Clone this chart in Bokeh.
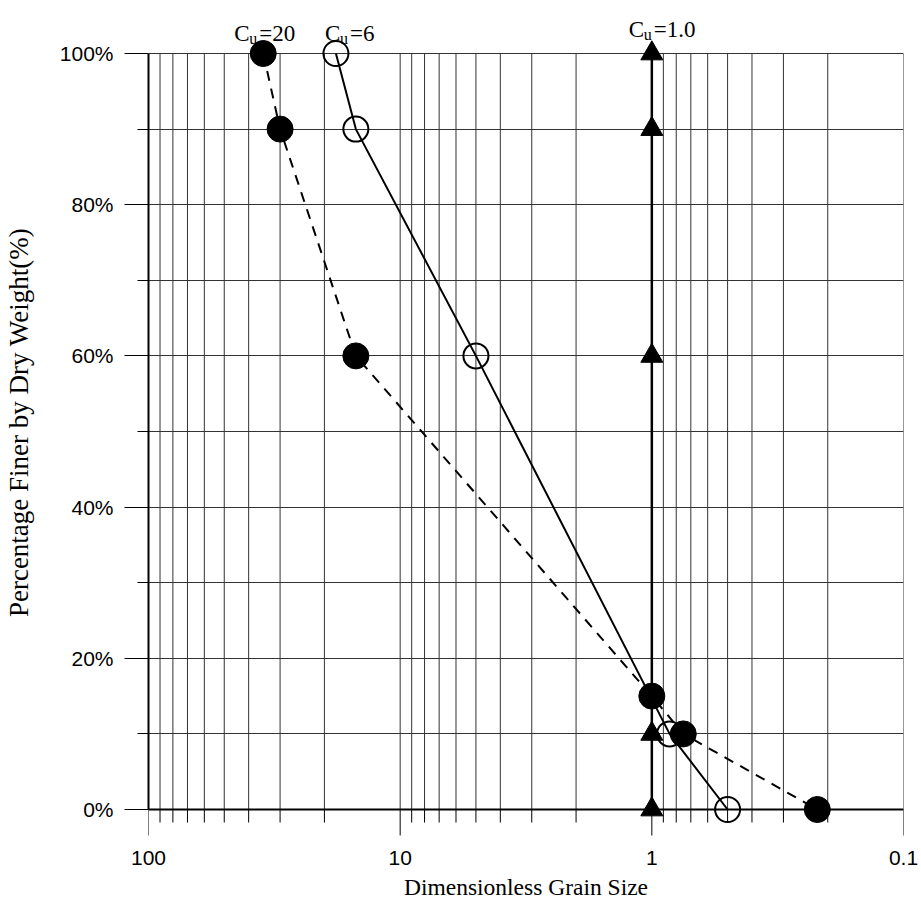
from bokeh.plotting import figure
from bokeh.models import Range1d, FixedTicker, CustomJSTickFormatter, Label, Span
from bokeh.embed import file_html
from bokeh.resources import INLINE

# ---- data ----
CU20_X = [35, 30, 15, 1.0, 0.75, 0.22]
CU20_Y = [100, 90, 60, 15, 10, 0]
CU6_X = [18, 15, 5, 0.85, 0.5]
CU6_Y = [100, 90, 60, 10, 0]
CU1_X = [1.0, 1.0, 1.0, 1.0, 1.0]
CU1_Y = [100, 90, 60, 10, 0]
SERIES_NAMES = [("C", "u", "=20"), ("C", "u", "=6"), ("C", "u", "=1.0")]
X_MAJOR = [0.1, 1, 10, 100]
X_MINOR = [m * d for d in (0.1, 1, 10) for m in range(2, 10)]
Y_MAJOR = [0, 20, 40, 60, 80, 100]
Y_MINOR = [10, 30, 50, 70, 90]
Y_MIN, Y_MAX = 0, 100

SERIF = "Liberation Serif"
SANS = "Liberation Sans"
PX_PER_PCT = 7.56          # vertical scale (px per percent)

p = figure(width=921, height=913, x_axis_type="log",
           x_range=Range1d(100, 0.1),
           y_range=Range1d(-27 / PX_PER_PCT, 100 + 45 / PX_PER_PCT),
           output_backend="svg", toolbar_location=None,
           min_border_left=148, min_border_right=18,
           min_border_top=8, min_border_bottom=77)
p.outline_line_color = None
p.background_fill_color = "white"

# x axis: only labels from Bokeh, line/ticks drawn at 0%
xa = p.xaxis[0]
xa.ticker = FixedTicker(ticks=X_MAJOR, minor_ticks=[])
xa.formatter = CustomJSTickFormatter(code="return tick >= 1 ? tick.toFixed(0) : tick.toString();")
xa.axis_line_color = None
xa.major_tick_line_color = None
xa.minor_tick_line_color = None
xa.major_tick_out = 0
xa.major_tick_in = 0
xa.minor_tick_out = 0
xa.minor_tick_in = 0
xa.major_label_text_font = SANS
xa.major_label_text_font_size = "21px"
xa.major_label_text_color = "black"
xa.major_label_standoff = 14
xa.axis_label = "Dimensionless Grain Size"
xa.axis_label_text_font = SERIF
xa.axis_label_text_font_style = "normal"
xa.axis_label_text_font_size = "23.5px"
xa.axis_label_text_color = "black"
xa.axis_label_standoff = 6

ya = p.yaxis[0]
ya.ticker = FixedTicker(ticks=Y_MAJOR, minor_ticks=Y_MINOR)
ya.formatter = CustomJSTickFormatter(code="return tick.toFixed(0) + '%';")
ya.bounds = (Y_MIN, Y_MAX)
ya.axis_line_width = 2
ya.axis_line_color = "black"
ya.major_tick_out = 24
ya.major_tick_in = 0
ya.minor_tick_out = 11
ya.minor_tick_in = 0
ya.major_tick_line_color = "black"
ya.minor_tick_line_color = "black"
ya.major_label_text_font = SANS
ya.major_label_text_font_size = "21px"
ya.major_label_text_color = "black"
ya.major_label_standoff = 11
ya.axis_label = "Percentage Finer by Dry Weight(%)"
ya.axis_label_text_font = SERIF
ya.axis_label_text_font_style = "normal"
ya.axis_label_text_font_size = "27px"
ya.axis_label_text_color = "black"
ya.axis_label_standoff = 23

# grids
GRID_COLOR = "#333333"
p.xgrid.visible = False
p.ygrid.ticker = FixedTicker(ticks=Y_MAJOR, minor_ticks=Y_MINOR)
p.ygrid.grid_line_color = GRID_COLOR
p.ygrid.minor_grid_line_color = GRID_COLOR
p.ygrid.grid_line_width = 1
p.ygrid.minor_grid_line_width = 1

# vertical grid lines limited to 0..100 %
gx = X_MAJOR + X_MINOR
p.segment(x0=gx, y0=[Y_MIN] * len(gx), x1=gx, y1=[Y_MAX] * len(gx),
          line_color=GRID_COLOR, line_width=1)
# x-axis line at 0 % and ticks hanging below it
p.add_layout(Span(location=Y_MIN, dimension="width", line_color="black", line_width=2))
p.segment(x0=X_MAJOR, y0=[Y_MIN] * len(X_MAJOR), x1=X_MAJOR,
          y1=[Y_MIN - 26 / PX_PER_PCT] * len(X_MAJOR), line_color="black", line_width=1)
p.segment(x0=X_MINOR, y0=[Y_MIN] * len(X_MINOR), x1=X_MINOR,
          y1=[Y_MIN - 13 / PX_PER_PCT] * len(X_MINOR), line_color="black", line_width=1)

# Cu = 1.0 (triangles)
p.line(CU1_X, CU1_Y, line_color="black", line_width=2.5)
p.scatter(CU1_X, CU1_Y, marker="triangle", size=22, fill_color="black", line_color="black")

# Cu = 6 (open circles, solid)
p.line(CU6_X, CU6_Y, line_color="black", line_width=2)
p.scatter(CU6_X, CU6_Y, marker="circle", size=25, fill_color=None, line_color="black", line_width=2)

# Cu = 20 (filled circles, dashed)
p.line(CU20_X, CU20_Y, line_color="black", line_width=2, line_dash="10 8")
p.scatter(CU20_X, CU20_Y, marker="circle", size=26, fill_color="black", line_color="black")

# top labels (C with subscript u)
anchors = [(CU20_X[0], -29, 33), (CU6_X[0], -11, 33), (CU1_X[0], -23, 29)]
for (c, sub, rest), (ax, off, base) in zip(SERIES_NAMES, anchors):
    yb = Y_MAX + (53 - base) / PX_PER_PCT
    ys = Y_MAX + (53 - base - 5) / PX_PER_PCT
    p.add_layout(Label(x=ax, y=yb, x_offset=off, text=c, text_font=SERIF, text_color="black",
                       text_font_size="23px", text_baseline="alphabetic", text_align="left"))
    p.add_layout(Label(x=ax, y=ys, x_offset=off + 15, text=sub, text_font=SERIF, text_color="black",
                       text_font_size="16px", text_baseline="alphabetic", text_align="left"))
    p.add_layout(Label(x=ax, y=yb, x_offset=off + 25, text=rest, text_font=SERIF, text_color="black",
                       text_font_size="23px", text_baseline="alphabetic", text_align="left"))

open("out.html", "w").write(file_html(p, INLINE))
